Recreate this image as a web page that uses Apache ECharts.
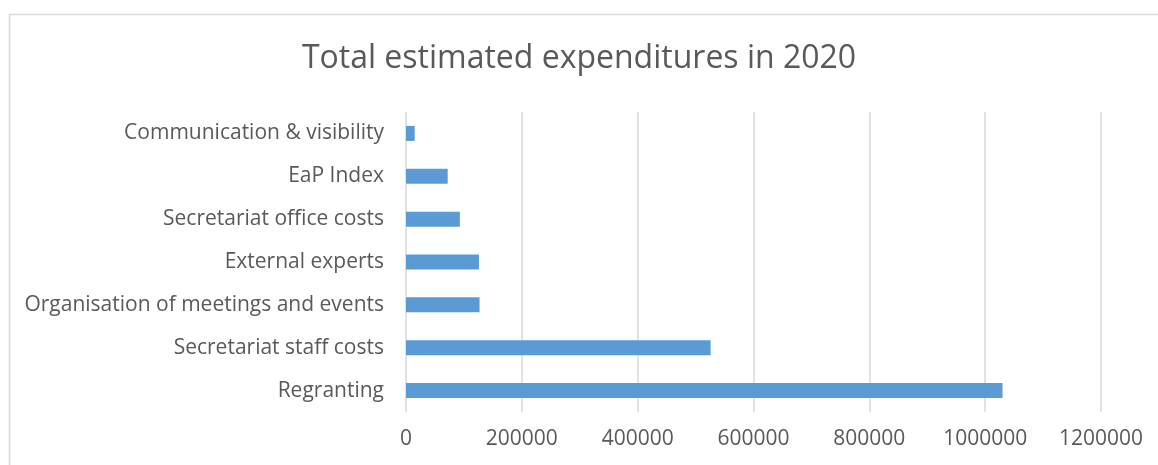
<!DOCTYPE html>
<html>
<head>
<meta charset="utf-8">
<script src="https://cdn.jsdelivr.net/npm/echarts@6/dist/echarts.min.js"></script>
<style>
html,body{margin:0;padding:0;background:#fff;}
#c{width:1158px;height:465px;}
</style>
</head>
<body>
<div id="c"></div>
<script>
const categories = ["Regranting","Secretariat staff costs","Organisation of meetings and events","External experts","Secretariat office costs","EaP Index","Communication & visibility"];
const values = [1030000, 526000, 127000, 126000, 93000, 72000, 15000];
const xTicks = [0, 200000, 400000, 600000, 800000, 1000000, 1200000];
const titleText = "Total estimated expenditures in 2020";

const chart = echarts.init(document.getElementById('c'));
const font = "Open Sans, Noto Sans, sans-serif";
chart.setOption({
  animation: false,
  backgroundColor: '#fff',
  graphic: [{
    type: 'rect', left: 7, top: 12,
    shape: {width: 1170, height: 470},
    style: {fill: 'none', stroke: '#d9d9d9', lineWidth: 1.5}
  }],
  title: {
    text: titleText, left: 'center', top: 38,
    textStyle: {fontFamily: font, fontSize: 32, fontWeight: 'normal', color: '#595959'}
  },
  grid: {left: 406, right: 57, top: 112, bottom: 53, containLabel: false},
  xAxis: {
    type: 'value', min: xTicks[0], max: xTicks[xTicks.length-1], interval: xTicks[1]-xTicks[0],
    axisLine: {show: false}, axisTick: {show: false},
    splitLine: {lineStyle: {color: '#d9d9d9', width: 1.5}},
    axisLabel: {fontFamily: font, fontSize: 21, color: '#595959', margin: 17, formatter: v => String(v)}
  },
  yAxis: {
    type: 'category', data: categories,
    axisLine: {show: false}, axisTick: {show: false},
    axisLabel: {fontFamily: font, fontSize: 21, color: '#595959', margin: 22}
  },
  series: [{
    type: 'bar', data: values, barWidth: 15,
    itemStyle: {color: '#5B9BD5'}
  }]
});
</script>
</body>
</html>
